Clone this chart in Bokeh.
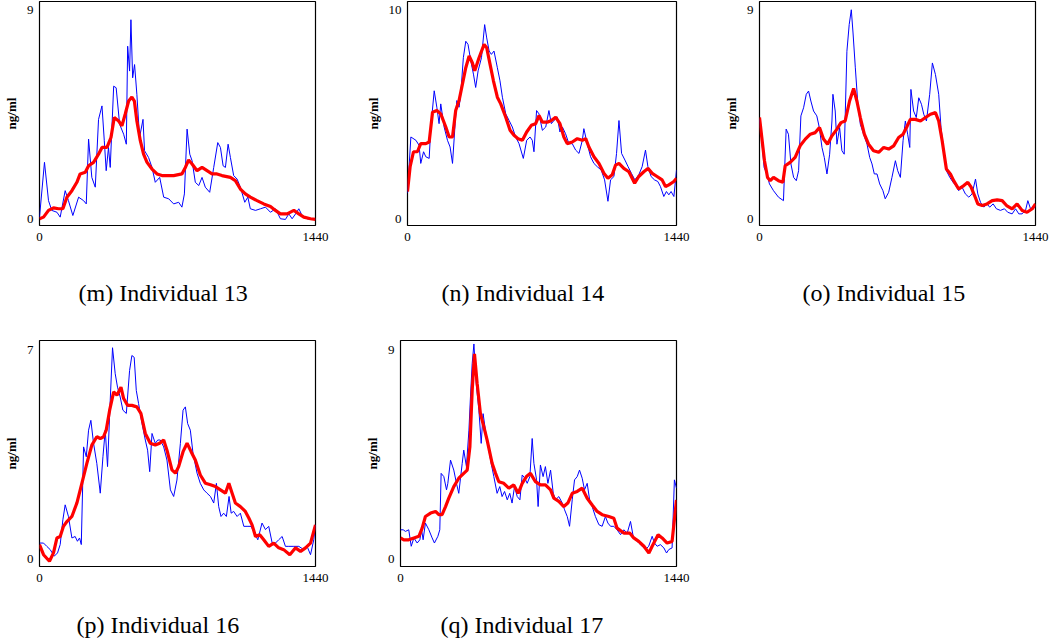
from bokeh.plotting import figure
from bokeh.layouts import column, row
from bokeh.models import Range1d, FixedTicker, Title
from bokeh.embed import file_html
from bokeh.resources import INLINE

CAPTIONS = ["(m) Individual 13", "(n) Individual 14", "(o) Individual 15",
            "(p) Individual 16", "(q) Individual 17"]
YMAX = [9, 10, 9, 7, 9]
X_TICKS = [0, 1440]
Y_LABEL = "ng/ml"

# ---- (m) Individual 13 ----
m_blue_x = [0, 26, 47, 64, 91, 108, 134, 151, 174, 204,
            230, 244, 256, 273, 291, 308, 326, 338, 348, 360,
            369, 387, 400, 418, 439, 453, 460, 470, 477, 486,
            496, 508, 522, 540, 548, 569, 587, 604, 627, 648,
            674, 700, 726, 743, 756, 770, 784, 796, 813, 831,
            848, 865, 888, 909, 930, 944, 958, 970, 984, 996,
            1013, 1031, 1048, 1071, 1087, 1100, 1127, 1153, 1179, 1205,
            1231, 1257, 1283, 1301, 1318, 1336, 1353, 1370, 1396, 1423,
            1440]
m_blue_y = [0.10, 2.46, 0.81, 0.39, 0.31, 0.10, 1.24, 0.81, 0.17, 0.96,
            0.81, 0.67, 3.46, 1.81, 1.39, 4.31, 4.89, 3.39, 2.10, 3.10,
            2.24, 5.74, 5.67, 4.10, 3.67, 3.24, 7.46, 6.39, 8.60, 6.10,
            6.67, 5.39, 3.53, 4.31, 2.96, 2.67, 2.24, 1.60, 1.81, 0.96,
            0.89, 0.67, 0.74, 0.53, 1.10, 3.89, 2.81, 2.53, 1.60, 1.46,
            1.81, 1.39, 1.17, 2.24, 3.31, 3.10, 2.31, 2.24, 3.24, 2.67,
            1.89, 1.74, 1.39, 0.74, 0.96, 0.46, 0.39, 0.46, 0.53, 0.31,
            0.46, 0.03, 0.00, 0.24, 0.03, 0.24, 0.46, 0.17, 0.03, 0.00,
            0.00]
m_red_x = [0, 21, 47, 73, 99, 122, 143, 169, 195, 212,
           239, 256, 282, 308, 326, 352, 373, 390, 413, 430,
           447, 465, 482, 495, 508, 526, 543, 561, 587, 613,
           639, 665, 700, 743, 761, 778, 796, 822, 848, 874,
           900, 926, 952, 996, 1022, 1048, 1074, 1100, 1135, 1170,
           1205, 1231, 1257, 1292, 1327, 1353, 1379, 1414, 1440]
m_red_y = [0.03, 0.10, 0.39, 0.50, 0.46, 0.46, 0.96, 1.24, 1.60, 1.96,
           2.03, 2.31, 2.46, 2.81, 3.10, 3.10, 3.53, 4.39, 4.24, 4.03,
           4.53, 5.10, 5.27, 5.10, 4.24, 3.39, 2.81, 2.46, 2.17, 1.96,
           1.89, 1.89, 1.89, 1.96, 2.24, 2.56, 2.39, 2.10, 2.24, 2.10,
           1.96, 1.96, 1.89, 1.81, 1.67, 1.31, 1.10, 0.96, 0.81, 0.67,
           0.56, 0.39, 0.24, 0.24, 0.39, 0.24, 0.10, 0.03, 0.00]

# ---- (n) Individual 14 ----
n_blue_x = [0, 18, 45, 62, 71, 86, 98, 116, 125, 143,
            157, 169, 178, 196, 214, 228, 241, 255, 264, 276,
            285, 299, 312, 324, 339, 353, 365, 378, 396, 413,
            424, 437, 449, 463, 481, 495, 508, 526, 544, 561,
            579, 597, 620, 638, 656, 668, 677, 691, 704, 722,
            740, 757, 770, 784, 802, 816, 829, 846, 864, 882,
            900, 918, 936, 944, 962, 980, 998, 1016, 1037, 1055,
            1073, 1087, 1105, 1119, 1132, 1146, 1164, 1181, 1199, 1217,
            1238, 1256, 1274, 1287, 1304, 1322, 1340, 1354, 1372, 1386,
            1399, 1411, 1426, 1440]
n_blue_y = [1.22, 3.92, 3.76, 3.52, 2.65, 3.21, 2.97, 2.89, 4.40, 6.14,
            5.35, 4.56, 5.51, 4.40, 3.76, 3.44, 2.65, 4.56, 5.67, 5.35,
            5.98, 7.73, 8.52, 8.37, 7.57, 6.94, 6.30, 7.10, 7.73, 9.32,
            8.68, 8.05, 7.89, 8.05, 7.25, 6.62, 5.83, 5.03, 4.71, 4.40,
            3.92, 3.60, 2.89, 3.76, 3.92, 3.76, 3.21, 5.19, 5.03, 4.24,
            4.40, 5.19, 4.56, 4.71, 4.87, 4.16, 4.40, 4.08, 3.60, 3.60,
            3.29, 3.13, 3.76, 4.32, 3.60, 2.97, 2.65, 2.49, 2.33, 1.86,
            0.83, 1.86, 2.02, 3.13, 4.71, 3.13, 2.81, 2.49, 2.17, 1.86,
            2.10, 2.49, 3.29, 2.49, 2.02, 1.86, 1.78, 1.54, 1.06, 1.30,
            1.14, 1.30, 1.06, 2.33]
n_red_x = [0, 14, 32, 53, 71, 98, 116, 134, 157, 178,
           205, 223, 241, 258, 276, 294, 312, 330, 347, 360,
           383, 410, 424, 442, 460, 481, 499, 526, 549, 570,
           592, 615, 638, 663, 686, 704, 722, 748, 770, 793,
           816, 837, 855, 882, 909, 936, 954, 971, 998, 1025,
           1052, 1073, 1096, 1114, 1132, 1158, 1185, 1216, 1238, 1265,
           1287, 1310, 1336, 1363, 1381, 1399, 1426, 1440]
n_red_y = [1.30, 2.49, 3.21, 3.21, 3.60, 3.60, 3.68, 5.11, 5.19, 5.03,
           4.40, 3.92, 3.92, 5.19, 5.67, 6.46, 7.25, 7.81, 7.49, 7.10,
           7.73, 8.37, 8.21, 7.41, 6.62, 5.83, 5.51, 4.87, 4.24, 4.00,
           3.84, 3.76, 4.16, 4.48, 4.56, 4.95, 4.63, 4.63, 4.71, 4.87,
           4.56, 3.92, 3.60, 3.68, 3.84, 3.76, 3.84, 3.44, 2.97, 2.65,
           2.17, 1.94, 2.10, 2.57, 2.65, 2.41, 2.25, 1.70, 2.02, 2.25,
           2.41, 2.17, 2.02, 1.86, 1.54, 1.62, 1.78, 1.94]

# ---- (o) Individual 15 ----
o_blue_x = [0, 12, 24, 38, 52, 73, 99, 125, 139, 151,
            164, 178, 192, 204, 216, 230, 244, 256, 268, 282,
            299, 312, 326, 338, 352, 366, 378, 383, 395, 404,
            418, 430, 442, 456, 468, 479, 488, 500, 512, 526,
            543, 561, 575, 587, 599, 613, 627, 644, 656, 674,
            691, 709, 721, 735, 749, 761, 773, 784, 790, 804,
            818, 831, 845, 857, 871, 888, 902, 918, 935, 947,
            961, 975, 993, 1010, 1024, 1039, 1057, 1074, 1092, 1109,
            1127, 1139, 1153, 1170, 1187, 1201, 1219, 1236, 1257, 1278,
            1295, 1318, 1336, 1353, 1370, 1388, 1400, 1414, 1428, 1440]
o_blue_y = [4.31, 3.39, 2.24, 1.96, 1.53, 1.24, 0.96, 0.81, 3.89, 3.67,
            2.39, 1.81, 1.67, 2.10, 4.46, 4.81, 5.39, 5.53, 5.10, 4.67,
            4.46, 3.96, 3.10, 2.67, 1.96, 2.81, 4.24, 5.39, 4.67, 3.24,
            3.96, 2.96, 2.81, 7.24, 8.39, 9.03, 8.03, 6.53, 5.10, 4.10,
            3.67, 3.24, 2.67, 2.39, 1.96, 1.96, 1.53, 1.24, 0.89, 1.17,
            1.81, 2.53, 2.10, 1.81, 3.39, 4.24, 3.67, 3.10, 5.60, 4.67,
            4.39, 5.24, 4.96, 4.53, 4.24, 5.39, 6.74, 6.24, 5.39, 3.96,
            2.96, 2.10, 1.81, 1.60, 1.46, 1.24, 1.39, 1.10, 0.96, 1.10,
            1.74, 1.10, 0.74, 0.53, 0.67, 0.53, 0.67, 0.46, 0.39, 0.46,
            0.31, 0.24, 0.46, 0.24, 0.24, 0.39, 0.81, 0.46, 0.53, 0.53]
o_red_x = [0, 12, 26, 42, 56, 73, 99, 122, 134, 160,
           186, 212, 239, 265, 291, 313, 334, 355, 378, 404,
           425, 447, 470, 491, 508, 526, 547, 569, 595, 622,
           648, 674, 700, 726, 749, 767, 787, 813, 840, 866,
           892, 918, 935, 953, 975, 996, 1013, 1039, 1066, 1087,
           1104, 1122, 1139, 1162, 1187, 1214, 1240, 1266, 1289, 1318,
           1344, 1370, 1396, 1423, 1440]
o_red_y = [4.39, 3.53, 2.53, 1.81, 1.67, 1.81, 1.67, 1.60, 2.31, 2.46,
           2.67, 3.17, 3.46, 3.67, 3.74, 3.96, 3.46, 3.24, 3.60, 3.89,
           4.17, 4.24, 5.10, 5.64, 5.10, 4.39, 3.67, 3.24, 2.96, 2.89,
           3.10, 3.03, 3.17, 3.53, 3.67, 3.96, 4.31, 4.31, 4.24, 4.39,
           4.53, 4.60, 4.24, 3.39, 2.17, 1.96, 1.67, 1.31, 1.46, 1.60,
           1.39, 1.03, 0.67, 0.60, 0.67, 0.81, 0.84, 0.81, 0.60, 0.46,
           0.67, 0.39, 0.31, 0.46, 0.67]

# ---- (p) Individual 16 ----
p_blue_x = [0, 21, 38, 56, 77, 94, 108, 122, 134, 151,
            169, 186, 198, 209, 218, 230, 244, 256, 268, 282,
            299, 317, 331, 343, 355, 369, 381, 395, 407, 421,
            435, 453, 470, 482, 494, 505, 517, 535, 552, 564,
            575, 587, 604, 617, 630, 648, 665, 683, 700, 717,
            735, 749, 761, 773, 787, 801, 822, 839, 857, 874,
            892, 909, 923, 935, 947, 961, 975, 989, 1000, 1013,
            1031, 1048, 1066, 1083, 1104, 1121, 1139, 1161, 1179, 1196,
            1214, 1231, 1248, 1266, 1283, 1301, 1327, 1353, 1379, 1396,
            1414, 1431, 1440]
p_blue_y = [0.52, 0.52, 0.41, 0.30, 0.08, 0.19, 0.47, 1.30, 1.80, 1.41,
            0.69, 0.74, 0.58, 0.69, 0.47, 3.74, 3.41, 4.30, 4.63, 3.86,
            3.19, 2.19, 3.41, 4.30, 3.08, 5.30, 7.06, 6.19, 5.74, 5.41,
            4.97, 4.86, 6.30, 6.80, 6.74, 5.63, 5.19, 4.52, 3.97, 3.63,
            2.91, 4.19, 3.86, 3.97, 3.97, 3.74, 3.30, 2.30, 2.08, 2.63,
            3.86, 4.97, 5.08, 4.52, 4.30, 3.52, 2.86, 2.52, 2.30, 2.19,
            2.08, 1.86, 2.52, 1.74, 1.41, 1.52, 1.41, 2.08, 1.52, 1.58,
            1.41, 1.52, 1.08, 1.08, 1.08, 0.86, 0.63, 1.19, 0.97, 1.08,
            0.52, 0.52, 0.63, 0.74, 0.41, 0.41, 0.41, 0.41, 0.30, 0.41,
            0.13, 0.63, 1.13]
p_red_x = [0, 21, 52, 73, 91, 108, 125, 143, 169, 195,
           221, 247, 273, 299, 317, 334, 348, 366, 387, 404,
           425, 439, 460, 482, 508, 529, 552, 578, 604, 627,
           648, 665, 691, 709, 726, 749, 770, 791, 813, 839,
           866, 892, 918, 944, 970, 988, 1005, 1022, 1048, 1074,
           1092, 1109, 1127, 1149, 1170, 1196, 1222, 1248, 1274, 1306,
           1336, 1362, 1388, 1414, 1440]
p_red_y = [0.47, 0.13, -0.09, 0.19, 0.69, 0.74, 1.08, 1.24, 1.41, 1.86,
           2.52, 3.19, 3.80, 4.08, 4.02, 4.08, 4.30, 4.97, 5.58, 5.47,
           5.74, 5.36, 5.13, 5.13, 5.08, 4.86, 4.19, 3.86, 3.80, 3.86,
           3.97, 3.63, 2.97, 2.86, 3.08, 3.58, 3.86, 3.58, 3.30, 2.80,
           2.52, 2.47, 2.41, 2.30, 2.19, 2.52, 2.19, 1.86, 1.74, 1.58,
           1.36, 1.13, 0.74, 0.80, 0.63, 0.41, 0.52, 0.36, 0.30, 0.13,
           0.36, 0.24, 0.36, 0.52, 1.13]

# ---- (q) Individual 17 ----
q_blue_x = [0, 14, 26, 43, 56, 70, 87, 101, 110, 118,
            130, 148, 165, 177, 195, 205, 212, 226, 240, 247,
            261, 278, 292, 304, 322, 330, 344, 357, 365, 374,
            383, 395, 409, 421, 431, 443, 461, 473, 487, 504,
            518, 530, 543, 557, 570, 582, 595, 609, 623, 635,
            649, 661, 675, 687, 696, 710, 718, 730, 744, 756,
            769, 783, 797, 809, 826, 844, 856, 870, 882, 896,
            908, 922, 934, 948, 960, 974, 988, 1000, 1017, 1035,
            1052, 1069, 1082, 1096, 1113, 1130, 1148, 1165, 1183, 1200,
            1214, 1228, 1243, 1261, 1278, 1295, 1313, 1325, 1339, 1356,
            1374, 1388, 1400, 1417, 1429, 1440]
q_blue_y = [1.24, 1.24, 1.17, 1.24, 0.53, 0.89, 0.67, 0.81, 1.24, 0.81,
            1.53, 1.24, 0.89, 0.67, 0.96, 1.24, 3.67, 3.53, 2.96, 3.24,
            4.24, 3.81, 3.24, 2.81, 4.10, 4.67, 3.96, 5.53, 6.96, 8.39,
            9.24, 7.53, 6.39, 4.96, 6.24, 5.53, 4.67, 4.10, 3.53, 2.81,
            3.10, 2.67, 2.89, 2.53, 2.81, 2.39, 3.10, 2.67, 2.53, 3.60,
            3.46, 3.24, 3.53, 5.17, 4.10, 3.39, 2.24, 4.03, 3.53, 3.96,
            3.24, 3.81, 2.81, 2.53, 2.67, 2.39, 2.10, 1.81, 1.39, 2.53,
            3.39, 3.53, 3.81, 3.46, 2.96, 3.24, 2.46, 2.24, 1.81, 1.46,
            1.39, 1.81, 1.53, 1.39, 1.39, 1.24, 1.03, 1.24, 1.10, 1.60,
            0.96, 0.81, 0.67, 0.53, 0.39, 0.53, 0.96, 0.67, 0.53, 0.60,
            0.46, 0.24, 0.39, 0.46, 3.39, 3.03]
q_red_x = [0, 17, 43, 70, 96, 113, 130, 157, 183, 200,
           217, 235, 252, 278, 304, 330, 348, 362, 374, 386,
           400, 417, 435, 452, 478, 496, 513, 539, 565, 591,
           614, 635, 657, 678, 704, 730, 756, 783, 800, 826,
           852, 873, 896, 922, 948, 974, 1000, 1026, 1052, 1087,
           1113, 1130, 1165, 1196, 1217, 1243, 1270, 1296, 1313, 1344,
           1365, 1391, 1417, 1440]
q_red_y = [0.89, 0.81, 0.81, 0.89, 0.96, 1.31, 1.81, 1.96, 2.03, 1.89,
           1.89, 2.24, 2.60, 3.10, 3.46, 3.67, 3.81, 4.81, 7.24, 8.81,
           7.53, 6.24, 5.67, 5.10, 4.10, 3.67, 3.31, 3.24, 3.03, 3.17,
           2.81, 3.24, 3.53, 3.67, 3.31, 3.17, 3.17, 2.96, 2.60, 2.46,
           2.24, 2.39, 2.81, 2.89, 3.03, 2.60, 2.31, 2.03, 1.89, 1.81,
           1.74, 1.31, 1.10, 1.10, 0.89, 0.74, 0.53, 0.24, 0.53, 1.03,
           0.89, 0.67, 0.74, 2.53]

SERIES = [
    (m_blue_x, m_blue_y, m_red_x, m_red_y),
    (n_blue_x, n_blue_y, n_red_x, n_red_y),
    (o_blue_x, o_blue_y, o_red_x, o_red_y),
    (p_blue_x, p_blue_y, p_red_x, p_red_y),
    (q_blue_x, q_blue_y, q_red_x, q_red_y),
]

# (width, height, min_border left/right/top/bottom, top pad frac, bottom pad frac,
#  caption offset, gap between tick labels and caption)
LAYOUT = [
    (362, 330, 39, 47, 1, 105, 0.040, 0.027, 39, 31),
    (358, 330, 45, 44, 1, 105, 0.040, 0.031, 34, 31),
    (329, 330, 39, 14, 1, 105, 0.040, 0.027, 43, 31),
    (361, 311, 39, 46, 10, 75, 0.040, 0.035, 37, 22),
    (335, 311, 39, 20, 10, 75, 0.040, 0.035, 40, 22),
]

SERIF = "Liberation Serif"


def make_panel(i):
    bx, by, rx, ry = SERIES[i]
    w, h, mbl, mbr, mbt, mbb, tf, bf, coff, gap = LAYOUT[i]
    ymax = YMAX[i]
    span = ymax / (1.0 - tf - bf)
    p = figure(width=w, height=h, output_backend="svg", toolbar_location=None,
               x_range=Range1d(0, 1440),
               y_range=Range1d(-bf * span, ymax + tf * span),
               title=None,
               min_border_left=mbl, min_border_right=mbr,
               min_border_top=mbt, min_border_bottom=mbb,
               background_fill_color="white", border_fill_color="white")
    p.line(bx, by, line_color="#0000ff", line_width=1)
    p.line(rx, ry, line_color="#ff0000", line_width=3.2)
    p.xgrid.visible = False
    p.ygrid.visible = False
    p.xaxis.ticker = FixedTicker(ticks=X_TICKS)
    p.yaxis.ticker = FixedTicker(ticks=[0, ymax])
    for ax in (p.xaxis[0], p.yaxis[0]):
        ax.axis_line_color = None
        ax.major_tick_line_color = None
        ax.minor_tick_line_color = None
        ax.major_tick_out = 0
        ax.major_tick_in = 0
        ax.minor_tick_out = 0
        ax.major_label_text_font = SERIF
        ax.major_label_text_font_size = "13px"
        ax.major_label_text_color = "black"
    p.xaxis.major_label_standoff = 7
    p.yaxis.major_label_standoff = 6
    p.yaxis.axis_label = Y_LABEL
    p.yaxis.axis_label_text_font = SERIF
    p.yaxis.axis_label_text_font_style = "bold"
    p.yaxis.axis_label_text_font_size = "13px"
    p.yaxis.axis_label_text_color = "black"
    p.yaxis.axis_label_standoff = 5
    p.outline_line_color = "black"
    p.outline_line_width = 1.2
    p.outline_line_alpha = 1.0

    spacer = Title(text=" ", text_font_size="1px", standoff=gap,
                   text_color="white")
    p.add_layout(spacer, "below")
    cap = Title(text=CAPTIONS[i], text_font=SERIF, text_font_size="24px",
                text_font_style="normal", text_color="black",
                align="left", offset=coff, standoff=0)
    p.add_layout(cap, "below")
    return p


panels = [make_panel(i) for i in range(5)]
layout = column(row(panels[0], panels[1], panels[2]),
                row(panels[3], panels[4]))

open("out.html", "w").write(file_html(layout, INLINE))
